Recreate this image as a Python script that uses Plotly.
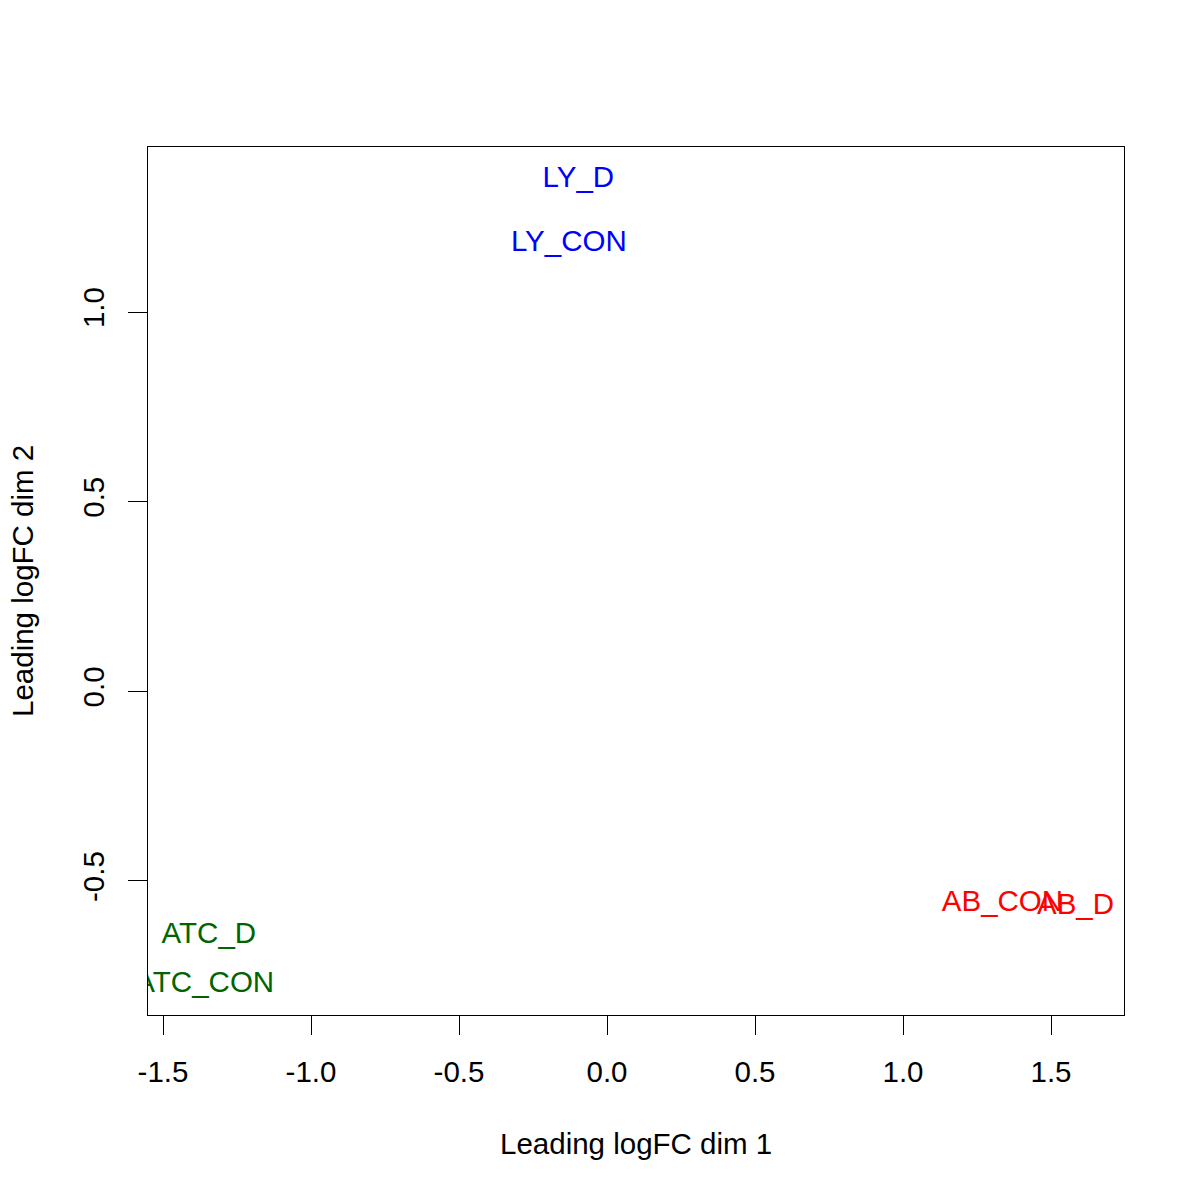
import plotly.graph_objects as go

labels = ["LY_D", "LY_CON", "AB_CON", "AB_D", "ATC_D", "ATC_CON"]
dim1 = [-0.097, -0.129, 1.336, 1.583, -1.345, -1.359]
dim2 = [1.348, 1.181, -0.561, -0.567, -0.645, -0.774]
colors = ["#0000FF", "#0000FF", "#FF0000", "#FF0000", "#006400", "#006400"]

x_ticks = [-1.5, -1.0, -0.5, 0.0, 0.5, 1.0, 1.5]
x_ticktext = ["-1.5", "-1.0", "-0.5", "0.0", "0.5", "1.0", "1.5"]
y_ticks = [-0.5, 0.0, 0.5, 1.0]
y_ticktext = ["-0.5", "0.0", "0.5", "1.0"]

FONT = "Liberation Sans, Arial, Helvetica, sans-serif"
FS = 29.5

fig = go.Figure()
fig.add_trace(go.Scatter(
    x=dim1, y=dim2, mode="text", text=labels,
    textposition="middle center",
    textfont=dict(family=FONT, size=FS, color=colors),
    cliponaxis=True, hoverinfo="skip", showlegend=False,
))

axis_common = dict(
    showgrid=False, zeroline=False, showline=True, linecolor="black",
    linewidth=1.3, mirror=True, ticks="outside", ticklen=19, tickwidth=1.3,
    tickcolor="black", tickfont=dict(family=FONT, size=FS, color="black"),
)

fig.update_layout(
    width=1200, height=1200,
    margin=dict(l=140, r=84, t=139, b=193),
    paper_bgcolor="white", plot_bgcolor="white",
    xaxis=dict(range=[-1.5507, 1.7466], tickvals=x_ticks, ticktext=x_ticktext,
               ticklabelstandoff=11, **axis_common),
    yaxis=dict(range=[-0.8534, 1.435], tickvals=y_ticks, ticktext=y_ticktext,
               tickangle=-90, ticklabelstandoff=12, **axis_common),
    annotations=[
        dict(text="Leading logFC dim 1", xref="paper", yref="paper",
             x=0.5, y=0, yshift=-128, xanchor="center", yanchor="middle",
             showarrow=False, font=dict(family=FONT, size=FS, color="black")),
        dict(text="Leading logFC dim 2", xref="paper", yref="paper",
             x=0, y=0.5, xshift=-126, xanchor="center", yanchor="middle",
             textangle=-90, showarrow=False,
             font=dict(family=FONT, size=FS, color="black")),
    ],
)

fig.write_html("out.html")
